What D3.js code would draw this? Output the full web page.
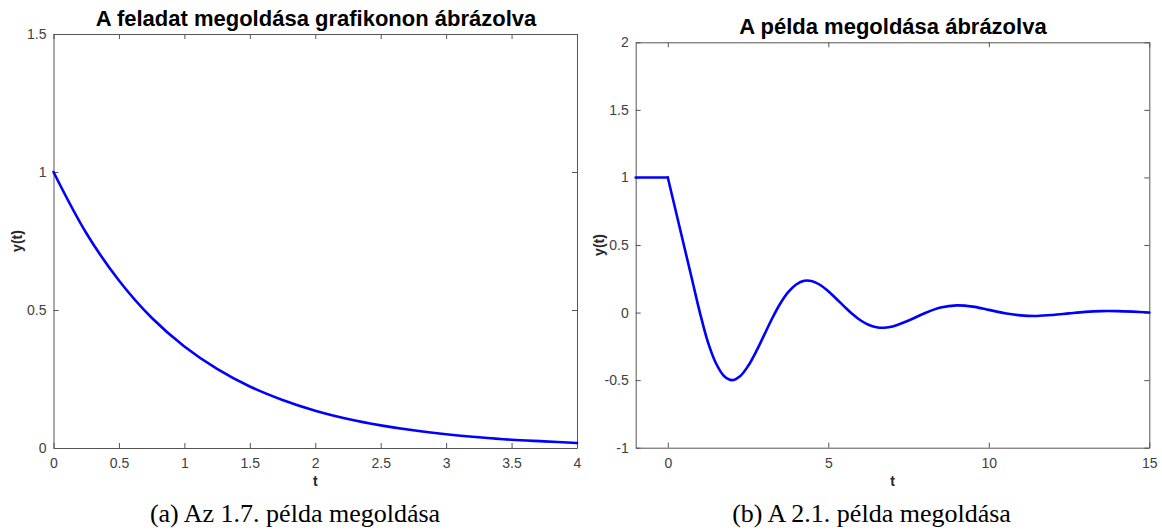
<!DOCTYPE html>
<html>
<head>
<meta charset="utf-8">
<script src="https://cdn.jsdelivr.net/npm/d3@7/dist/d3.min.js"></script>
<style>
  body { margin: 0; background: #fff; }
  .tick text { font-family: "Liberation Sans", Arial, sans-serif; font-size: 14px; fill: #404040; }
  .domain, .tick line { stroke: #555; }
</style>
</head>
<body>
<div id="chart"></div>
<script>
// (a) exponential decay
var expT = [0, 0.25, 0.5, 0.75, 1, 1.25, 1.5, 1.75, 2, 2.25, 2.5, 2.75, 3, 3.25, 3.5, 3.75, 4];
var expY = [1, 0.779, 0.607, 0.472, 0.368, 0.287, 0.223, 0.174, 0.135, 0.105, 0.082, 0.064, 0.050, 0.039, 0.030, 0.024, 0.018];
var expXTicks = [0, 0.5, 1, 1.5, 2, 2.5, 3, 3.5, 4];
var expYTicks = [0, 0.5, 1, 1.5];

// (b) damped oscillation, constant 1 before t = 0
var dampT = [-1, 0, 0.25, 0.5, 0.75, 1, 1.25, 1.5, 1.75, 2, 2.25, 2.5, 2.75, 3, 3.25, 3.5, 3.75, 4,
  4.25, 4.5, 4.75, 5, 5.25, 5.5, 5.75, 6, 6.25, 6.5, 6.75, 7, 7.5, 8, 8.5, 9, 9.5, 10,
  10.5, 11, 11.5, 12, 12.5, 13, 13.5, 14, 14.5, 15];
var dampY = [1, 1, 0.75, 0.5, 0.25, 0, -0.219, -0.375, -0.469, -0.5, -0.471, -0.396, -0.289, -0.167, -0.044, 0.065, 0.151, 0.208,
  0.235, 0.232, 0.204, 0.158, 0.102, 0.044, -0.011, -0.057, -0.090, -0.108, -0.112, -0.103, -0.059, -0.005, 0.037, 0.053, 0.044, 0.020,
  -0.005, -0.021, -0.025, -0.018, -0.006, 0.005, 0.011, 0.011, 0.007, 0.001];
var dampXTicks = [0, 5, 10, 15];
var dampYTicks = [-1, -0.5, 0, 0.5, 1, 1.5, 2];

var svg = d3.select("#chart").append("svg")
  .attr("width", 1162)
  .attr("height", 531);

function panel(p) {
  var x = d3.scaleLinear().domain(p.xDomain).range([p.left, p.right]);
  var y = d3.scaleLinear().domain(p.yDomain).range([p.bottom, p.top]);
  var fmt = function(d) { return String(d); };

  // box with inward ticks on all four sides
  svg.append("g").attr("transform", "translate(0," + p.bottom + ")")
    .call(d3.axisBottom(x).tickValues(p.xTicks).tickFormat(fmt).tickSize(-5).tickSizeOuter(0).tickPadding(10));
  svg.append("g").attr("transform", "translate(0," + p.top + ")")
    .call(d3.axisTop(x).tickValues(p.xTicks).tickFormat("").tickSize(-5).tickSizeOuter(0));
  svg.append("g").attr("transform", "translate(" + p.left + ",0)")
    .call(d3.axisLeft(y).tickValues(p.yTicks).tickFormat(fmt).tickSize(-5).tickSizeOuter(0).tickPadding(7));
  svg.append("g").attr("transform", "translate(" + p.right + ",0)")
    .call(d3.axisRight(y).tickValues(p.yTicks).tickFormat("").tickSize(-5).tickSizeOuter(0));

  var pts = p.t.map(function(t, i) { return [t, p.v[i]]; });
  var flat = pts.filter(function(d) { return d[0] <= 0; });
  var rest = pts.filter(function(d) { return d[0] >= 0; });

  var straight = d3.line().x(function(d) { return x(d[0]); }).y(function(d) { return y(d[1]); });
  var smooth = d3.line().curve(d3.curveCatmullRom).x(function(d) { return x(d[0]); }).y(function(d) { return y(d[1]); });

  [[flat, straight], [rest, smooth]].forEach(function(part) {
    if (part[0].length < 2) return;
    svg.append("path")
      .attr("d", part[1](part[0]))
      .attr("fill", "none")
      .attr("stroke", "#0000ff")
      .attr("stroke-width", 2.6)
      .attr("stroke-linejoin", "round")
      .attr("stroke-linecap", "round");
  });

  svg.append("text")
    .attr("x", p.titleX).attr("y", p.titleY)
    .attr("text-anchor", "middle")
    .style("font-family", "'Liberation Sans', Arial, sans-serif")
    .style("font-weight", "bold")
    .style("font-size", "22px")
    .text(p.title);

  svg.append("text")
    .attr("x", (p.left + p.right) / 2).attr("y", 486)
    .attr("text-anchor", "middle")
    .style("font-family", "'Liberation Sans', Arial, sans-serif")
    .style("font-weight", "bold")
    .style("font-size", "14px")
    .attr("fill", "#262626")
    .text("t");

  svg.append("text")
    .attr("transform", "translate(" + p.ylabX + "," + (p.top + p.bottom) / 2 + ") rotate(-90)")
    .attr("text-anchor", "middle")
    .style("font-family", "'Liberation Sans', Arial, sans-serif")
    .style("font-weight", "bold")
    .style("font-size", "14px")
    .attr("fill", "#262626")
    .text("y(t)");

  svg.append("text")
    .attr("x", p.capX).attr("y", 522)
    .attr("text-anchor", "middle")
    .style("font-family", "'Liberation Serif', 'Times New Roman', serif")
    .style("font-size", "26px")
    .text(p.caption);
}

panel({
  t: expT, v: expY, xTicks: expXTicks, yTicks: expYTicks,
  xDomain: [0, 4], yDomain: [0, 1.5],
  left: 53.5, right: 577, top: 34, bottom: 448,
  title: "A feladat megoldása grafikonon ábrázolva", titleX: 316, titleY: 26,
  ylabX: 22, capX: 295, caption: "(a) Az 1.7. példa megoldása"
});

panel({
  t: dampT, v: dampY, xTicks: dampXTicks, yTicks: dampYTicks,
  xDomain: [-1, 15], yDomain: [-1, 2],
  left: 635.7, right: 1149.3, top: 42.3, bottom: 447.7,
  title: "A példa megoldása ábrázolva", titleX: 893, titleY: 33.5,
  ylabX: 604, capX: 871.5, caption: "(b) A 2.1. példa megoldása"
});
</script>
</body>
</html>
